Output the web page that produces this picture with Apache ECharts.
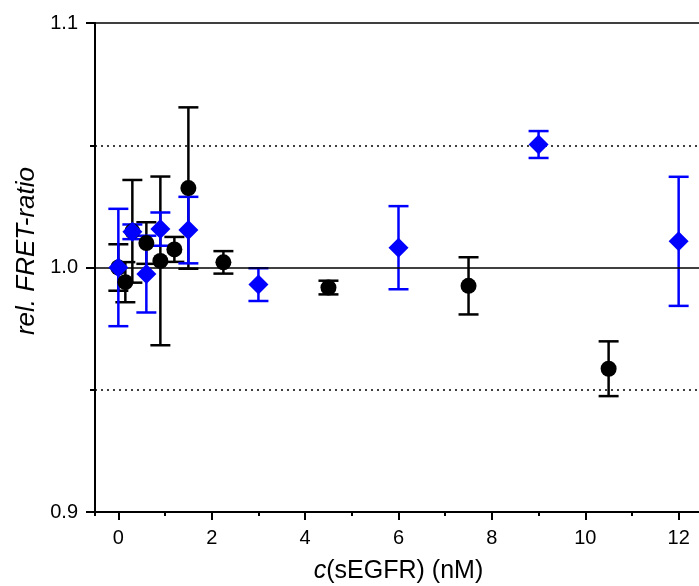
<!DOCTYPE html>
<html>
<head>
<meta charset="utf-8">
<script src="https://cdn.jsdelivr.net/npm/echarts@6/dist/echarts.min.js"></script>
<style>
html,body{margin:0;padding:0;background:#fff;}
#chart{width:699px;height:586px;}
</style>
</head>
<body>
<div id="chart"></div>
<script>
// Black circles
const xBlack = [0, 0.15, 0.3, 0.6, 0.9, 1.2, 1.5, 2.25, 4.5, 7.5, 10.5];
const yBlack = [1.000, 0.994, 1.0148, 1.0100, 1.0027, 1.0074, 1.0325, 1.0021, 0.9918, 0.9925, 0.9586];
const eBlack = [0.0095, 0.0082, 0.021, 0.0085, 0.0345, 0.0051, 0.033, 0.0046, 0.0028, 0.0117, 0.0112];
// Blue diamonds
const xBlue = [0, 0.3, 0.6, 0.9, 1.5, 3, 6, 9, 12];
const yBlue = [1.000, 1.0146, 0.9973, 1.0157, 1.0153, 0.9930, 1.0081, 1.0503, 1.0107];
const eBlue = [0.024, 0.003, 0.0157, 0.0068, 0.0136, 0.0067, 0.017, 0.0055, 0.0264];
// Reference lines
const refSolid = [1.0];
const refDotted = [0.95, 1.05];

const FONT = 'Liberation Sans, Arial, sans-serif';
const BLUE = '#0000FF';

function errData(xs, ys, es) { return xs.map((x, i) => [x, ys[i], es[i]]); }
function ptData(xs, ys) { return xs.map((x, i) => [x, ys[i]]); }

function errRender(color) {
  return function (params, api) {
    const x = api.value(0), y = api.value(1), e = api.value(2);
    const t = api.coord([x, y + e]);
    const b = api.coord([x, y - e]);
    const hw = 10;
    const st = { stroke: color, lineWidth: 2.5 };
    return {
      type: 'group',
      children: [
        { type: 'line', shape: { x1: t[0], y1: t[1], x2: b[0], y2: b[1] }, style: st },
        { type: 'line', shape: { x1: t[0] - hw, y1: t[1], x2: t[0] + hw, y2: t[1] }, style: st },
        { type: 'line', shape: { x1: b[0] - hw, y1: b[1], x2: b[0] + hw, y2: b[1] }, style: st }
      ]
    };
  };
}

const chart = echarts.init(document.getElementById('chart'), null, { renderer: 'canvas' });
const option = {
  backgroundColor: '#fff',
  animation: false,
  textStyle: { fontFamily: FONT },
  grid: { left: 95, right: -3, top: 23, bottom: 74, outerBoundsMode: 'none', containLabel: false, show: true, borderColor: '#000', borderWidth: 1.5, backgroundColor: 'transparent' },
  graphic: [{
    type: 'text',
    x: 27, y: 251,
    rotation: Math.PI / 2,
    style: { text: 'rel. FRET-ratio', font: 'italic 26px ' + FONT, fill: '#000', textAlign: 'center', textVerticalAlign: 'middle' }
  }],
  xAxis: [{
    type: 'value', min: -0.5, max: 12.5, splitNumber: 6, position: 'bottom',
    name: '{i|c}{n|(sEGFR) (nM)}', nameLocation: 'middle', nameGap: 47,
    nameTextStyle: { rich: {
      i: { fontStyle: 'italic', fontSize: 25, fontFamily: FONT, color: '#000' },
      n: { fontSize: 25, fontFamily: FONT, color: '#000' }
    } },
    axisLine: { show: true, onZero: false, lineStyle: { color: '#000', width: 2 } },
    axisTick: { show: true, length: 8, lineStyle: { color: '#000', width: 2 } },
    axisLabel: { color: '#000', fontSize: 20, fontFamily: FONT, margin: 16, showMinLabel: false, showMaxLabel: false },
    splitLine: { show: false }
  }, {
    type: 'value', min: -0.5, max: 12.5, splitNumber: 13, position: 'bottom',
    axisLine: { show: false, onZero: false },
    axisTick: { show: true, length: 4, lineStyle: { color: '#000', width: 2 } },
    axisLabel: { show: false },
    splitLine: { show: false }
  }],
  yAxis: {
    type: 'value', min: 0.9, max: 1.1, interval: 0.1,
    axisLine: { show: true, onZero: false, lineStyle: { color: '#000', width: 2 } },
    axisTick: { show: true, length: 9, lineStyle: { color: '#000', width: 2 } },
    minorTick: { show: true, splitNumber: 2, length: 5, lineStyle: { color: '#000', width: 2 } },
    axisLabel: { color: '#000', fontSize: 20, fontFamily: FONT, margin: 17, formatter: v => v.toFixed(1) },
    splitLine: { show: false }
  },
  series: [
    {
      type: 'custom', name: 'errBlack', renderItem: errRender('#000'),
      data: errData(xBlack, yBlack, eBlack), encode: { x: 0, y: [1] }, z: 2,
      markLine: {
        silent: true, symbol: 'none', label: { show: false },
        data: [
          ...refSolid.map(v => ({ yAxis: v, lineStyle: { color: '#000', width: 1.5, type: 'solid' } })),
          ...refDotted.map(v => ({ yAxis: v, lineStyle: { color: '#000', width: 1.5, type: [2, 4] } }))
        ]
      }
    },
    {
      type: 'custom', name: 'errBlue', renderItem: errRender(BLUE),
      data: errData(xBlue, yBlue, eBlue), encode: { x: 0, y: [1] }, z: 3
    },
    {
      type: 'scatter', name: 'black', data: ptData(xBlack, yBlack),
      symbol: 'circle', symbolSize: 16, itemStyle: { color: '#000', opacity: 1 }, z: 4
    },
    {
      type: 'scatter', name: 'blue', data: ptData(xBlue, yBlue),
      symbol: 'diamond', symbolSize: [20, 20], itemStyle: { color: BLUE, opacity: 1 }, z: 5
    }
  ]
};
chart.setOption(option);
</script>
</body>
</html>
